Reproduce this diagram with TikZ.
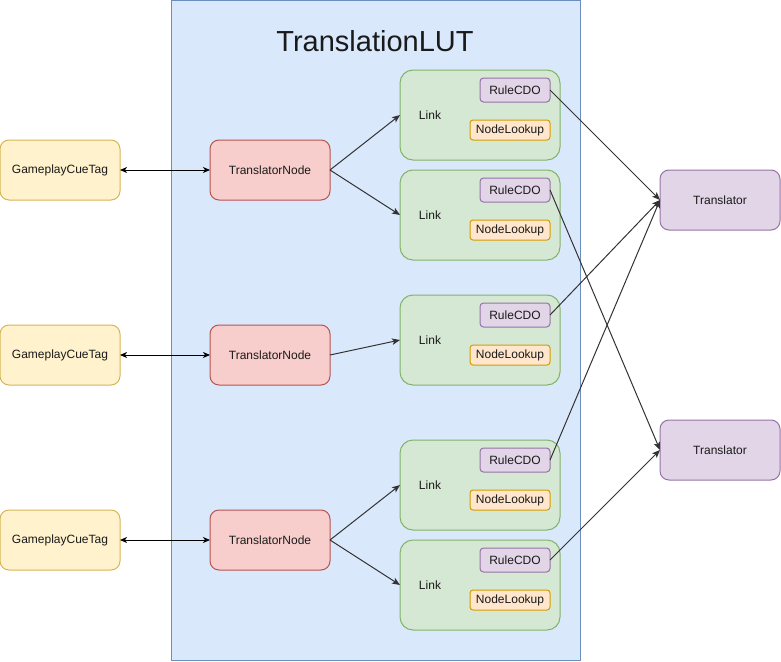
\documentclass[tikz,border=0pt]{standalone}
\usepackage{fontspec}
\setmainfont{Liberation Sans}
\usetikzlibrary{arrows.meta}
\definecolor{contfill}{HTML}{DAE8FC}
\definecolor{contline}{HTML}{6C8EBF}
\definecolor{yfill}{HTML}{FFF2CC}
\definecolor{yline}{HTML}{D6B656}
\definecolor{rfill}{HTML}{F8CECC}
\definecolor{rline}{HTML}{B85450}
\definecolor{gfill}{HTML}{D5E8D4}
\definecolor{gline}{HTML}{82B366}
\definecolor{pfill}{HTML}{E1D5E7}
\definecolor{pline}{HTML}{9673A6}
\definecolor{ofill}{HTML}{FFE6CC}
\definecolor{oline}{HTML}{D79B00}
\definecolor{edgegray}{HTML}{333333}
\definecolor{txt}{HTML}{1A1A1A}
\tikzset{
  box/.style={draw, line width=1pt, inner sep=0pt, outer sep=0pt, font=\fontsize{12}{14}\selectfont, text=txt},
  cuetag/.style={box, fill=yfill, draw=yline, minimum width=120pt, minimum height=60pt, rounded corners=9pt},
  tnode/.style={box, fill=rfill, draw=rline, minimum width=120pt, minimum height=60pt, rounded corners=9pt},
  linkbox/.style={box, fill=gfill, draw=gline, minimum width=160pt, minimum height=90pt, rounded corners=13pt},
  rulebox/.style={box, fill=pfill, draw=pline, minimum width=70pt, minimum height=24pt, rounded corners=3.5pt},
  lookbox/.style={box, fill=ofill, draw=oline, minimum width=80pt, minimum height=20pt, rounded corners=3pt},
  transbox/.style={box, fill=pfill, draw=pline, minimum width=120pt, minimum height=60pt, rounded corners=9pt},
  lbl/.style={inner sep=0pt, font=\fontsize{12}{14}\selectfont, text=txt},
  biarrow/.style={line width=1pt, black, {Stealth[length=7pt,width=6pt,inset=2pt]}-{Stealth[length=7pt,width=6pt,inset=2pt]}},
  flow/.style={line width=1pt, edgegray, -{Stealth[length=8pt,width=6.5pt,inset=2pt]}},
}
\begin{document}
\begin{tikzpicture}[x=1pt,y=-1pt]
\useasboundingbox (0,0) rectangle (781,661);
\node[draw=contline, fill=contfill, line width=1pt, inner sep=0pt, minimum width=409pt, minimum height=659.5pt, anchor=north west] (lut) at (171,0.5) {};
\node[lbl, font=\fontsize{29}{34}\selectfont] (title) at (375,41) {TranslationLUT};

% Gameplay cue tags
\node[cuetag] (g1) at (60,170) {GameplayCueTag};
\node[cuetag] (g2) at (60,355) {GameplayCueTag};
\node[cuetag] (g3) at (60,540) {GameplayCueTag};

% Translator nodes
\node[tnode] (t1) at (270,170) {TranslatorNode};
\node[tnode] (t2) at (270,355) {TranslatorNode};
\node[tnode] (t3) at (270,540) {TranslatorNode};

% Links
\foreach \i/\y in {1/115,2/215,3/340,4/485,5/585}{
  \node[linkbox] (l\i) at (480,\y) {};
  \node[lbl] (ll\i) at (430,\y) {Link};
  \node[rulebox] (r\i) at (515,\y-25) {RuleCDO};
  \node[lookbox] (n\i) at (510,\y+15) {NodeLookup};
}

% Translators
\node[transbox] (x1) at (720,200) {Translator};
\node[transbox] (x2) at (720,450) {Translator};

% edges
\draw[biarrow] (g1.east) -- (t1.west);
\draw[biarrow] (g2.east) -- (t2.west);
\draw[biarrow] (g3.east) -- (t3.west);

\draw[flow] (t1.east) -- (l1.west);
\draw[flow] (t1.east) -- (l2.west);
\draw[flow] (t2.east) -- (l3.west);
\draw[flow] (t3.east) -- (l4.west);
\draw[flow] (t3.east) -- (l5.west);

\draw[flow] (r1.east) -- (x1.west);
\draw[flow] (r2.east) -- (x2.west);
\draw[flow] (r3.east) -- (x1.west);
\draw[flow] (r4.east) -- (x1.west);
\draw[flow] (r5.east) -- (x2.west);
\end{tikzpicture}
\end{document}
